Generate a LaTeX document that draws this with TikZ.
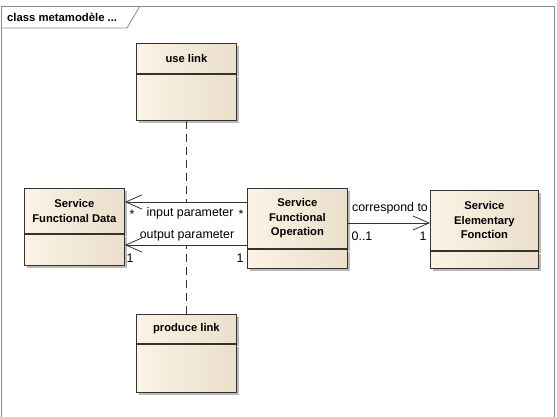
\documentclass[tikz,border=0pt]{standalone}
\usepackage{fontspec}
\setmainfont{Liberation Sans}
\usetikzlibrary{positioning,arrows.meta,shadows}
\definecolor{boxl}{HTML}{FCF3E5}
\definecolor{boxr}{HTML}{E9DFCA}
\definecolor{framegray}{HTML}{8A8A8A}

\begin{document}
\begin{tikzpicture}
  [x=1pt,y=-1pt,
   every node/.style={font=\fontsize{12.4}{14}\selectfont,inner sep=0pt},
   classbox/.style={draw=black!80,line width=.8pt,left color=boxl,right color=boxr,
     align=center,anchor=north west,
     font=\fontsize{11.2}{14.5}\selectfont\bfseries,
     drop shadow={shadow xshift=3pt,shadow yshift=-3pt,fill=black!45,opacity=.6}},
   assoc/.style={draw=black!80,line width=.8pt},
   link/.style={draw=black!80,line width=.9pt,dash pattern=on 8pt off 5pt},
   barb/.style={-{Straight Barb[length=16pt,width=14pt,line width=.8pt]}}]

  \useasboundingbox (0,0) rectangle (557,416);

  % frame
  \draw[framegray,line width=.8pt] (1,420) -- (1,6) -- (554,6) -- (554,420);
  \draw[framegray,line width=.8pt] (1,28) -- (127,28) -- (140,6);
  \node[anchor=west,font=\fontsize{11.3}{14}\selectfont\bfseries] (title) at (7,17) {class metamod\`ele ...};

  % classes
  \node[classbox,minimum width=100pt,minimum height=30pt] (usel) at (136,43) {use link};
  \node[classbox,minimum width=100pt,minimum height=46pt,below=0pt of usel] (uselb) {};

  \node[classbox,minimum width=100pt,minimum height=45pt] (sfd) at (24,188) {Service\\Functional Data};
  \node[classbox,minimum width=100pt,minimum height=31pt,below=0pt of sfd] (sfdb) {};

  \node[classbox,minimum width=100pt,minimum height=60pt] (sfo) at (247,188) {Service\\Functional\\Operation};
  \node[classbox,minimum width=100pt,minimum height=19pt,below=0pt of sfo] (sfob) {};

  \node[classbox,minimum width=108pt,minimum height=60pt] (sef) at (430,190) {Service\\Elementary\\Fonction};
  \node[classbox,minimum width=108pt,minimum height=17pt,below=0pt of sef] (sefb) {};

  \node[classbox,minimum width=100pt,minimum height=29pt] (prodl) at (136,314) {produce link};
  \node[classbox,minimum width=100pt,minimum height=48pt,below=0pt of prodl] (prodlb) {};

  % associations
  \coordinate (inp) at ([yshift=-14pt]sfo.north west);
  \coordinate (outp) at ([yshift=-57pt]sfo.north west);
  \draw[assoc,barb] (inp) -- (inp -| sfd.east);
  \draw[assoc,barb] (outp) -- (outp -| sfd.east);
  \draw[assoc,barb] ([yshift=-35pt]sfo.north east) -- ([yshift=-35pt]sfo.north east -| sef.west);

  \draw[link] (uselb.south) -- (uselb.south |- inp);
  \draw[link] (prodl.north) -- (prodl.north |- outp);

  % labels
  \node (instar1) at (132,214) {*};
  \node (inlbl) at (190,213) {input parameter};
  \node (instar2) at (241,214) {*};
  \node (outlbl) at (187,236) {output parameter};
  \node (outone1) at (130,258) {1};
  \node (outone2) at (240,258) {1};
  \node (corlbl) at (390,208) {correspond to};
  \node (cormul1) at (362,236) {0..1};
  \node (cormul2) at (423,236) {1};

\end{tikzpicture}
\end{document}
